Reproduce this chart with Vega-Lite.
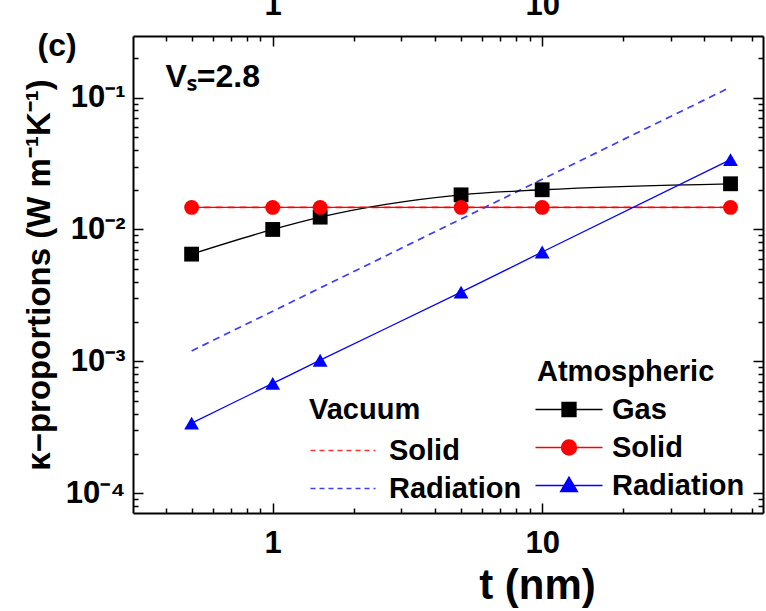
{
  "$schema": "https://vega.github.io/schema/vega-lite/v6.json",
  "width": 630,
  "height": 477,
  "autosize": "none",
  "padding": {"left": 133, "top": 36, "right": 3, "bottom": 98},
  "background": "white",
  "config": {
    "view": {"stroke": null},
    "font": "Liberation Sans",
    "axis": {
      "grid": false,
      "domainColor": "black",
      "domainWidth": 2,
      "tickColor": "black",
      "tickWidth": 1.5,
      "labelColor": "black",
      "titleColor": "black",
      "labelFont": "Liberation Sans",
      "titleFont": "Liberation Sans",
      "labelFontWeight": "bold",
      "titleFontWeight": "bold",
      "labelFlush": false,
      "labelOverlap": false,
      "labelBound": false
    },
    "legend": {
      "labelFont": "Liberation Sans",
      "titleFont": "Liberation Sans",
      "labelFontSize": 29,
      "titleFontSize": 29,
      "labelFontWeight": "bold",
      "titleFontWeight": "bold",
      "labelColor": "black",
      "titleColor": "black",
      "padding": 0,
      "labelLimit": 400,
      "titleLimit": 400
    }
  },
  "data": {
    "values": [
      {"env": "Atmospheric", "comp": "Gas", "t": 0.5, "k": 0.0065},
      {"env": "Atmospheric", "comp": "Gas", "t": 1, "k": 0.0100},
      {"env": "Atmospheric", "comp": "Gas", "t": 1.5, "k": 0.0124},
      {"env": "Atmospheric", "comp": "Gas", "t": 5, "k": 0.0183},
      {"env": "Atmospheric", "comp": "Gas", "t": 10, "k": 0.0200},
      {"env": "Atmospheric", "comp": "Gas", "t": 50, "k": 0.0222},
      {"env": "Atmospheric", "comp": "Solid", "t": 0.5, "k": 0.0147},
      {"env": "Atmospheric", "comp": "Solid", "t": 1, "k": 0.0147},
      {"env": "Atmospheric", "comp": "Solid", "t": 1.5, "k": 0.0147},
      {"env": "Atmospheric", "comp": "Solid", "t": 5, "k": 0.0147},
      {"env": "Atmospheric", "comp": "Solid", "t": 10, "k": 0.0147},
      {"env": "Atmospheric", "comp": "Solid", "t": 50, "k": 0.0147},
      {"env": "Atmospheric", "comp": "Radiation", "t": 0.5, "k": 0.00034},
      {"env": "Atmospheric", "comp": "Radiation", "t": 1, "k": 0.00068},
      {"env": "Atmospheric", "comp": "Radiation", "t": 1.5, "k": 0.00102},
      {"env": "Atmospheric", "comp": "Radiation", "t": 5, "k": 0.00335},
      {"env": "Atmospheric", "comp": "Radiation", "t": 10, "k": 0.00675},
      {"env": "Atmospheric", "comp": "Radiation", "t": 50, "k": 0.0338},
      {"env": "Vacuum", "comp": "Solid", "t": 0.5, "k": 0.0147},
      {"env": "Vacuum", "comp": "Solid", "t": 1, "k": 0.0147},
      {"env": "Vacuum", "comp": "Solid", "t": 1.5, "k": 0.0147},
      {"env": "Vacuum", "comp": "Solid", "t": 5, "k": 0.0147},
      {"env": "Vacuum", "comp": "Solid", "t": 10, "k": 0.0147},
      {"env": "Vacuum", "comp": "Solid", "t": 50, "k": 0.0147},
      {"env": "Vacuum", "comp": "Radiation", "t": 0.5, "k": 0.0012},
      {"env": "Vacuum", "comp": "Radiation", "t": 1, "k": 0.0024},
      {"env": "Vacuum", "comp": "Radiation", "t": 1.5, "k": 0.0036},
      {"env": "Vacuum", "comp": "Radiation", "t": 5, "k": 0.012},
      {"env": "Vacuum", "comp": "Radiation", "t": 10, "k": 0.024},
      {"env": "Vacuum", "comp": "Radiation", "t": 50, "k": 0.12}
    ]
  },
  "layer": [
    {
      "transform": [{"filter": "datum.env == 'Vacuum'"}],
      "mark": {"type": "line", "strokeDash": [7, 5], "strokeWidth": 1.7, "clip": true},
      "encoding": {
        "x": {
          "field": "t", "type": "quantitative",
          "scale": {"type": "log", "domain": [0.303, 66], "nice": false},
          "axis": {
            "orient": "bottom",
            "values": [0.4, 0.5, 0.6, 0.7, 0.8, 0.9, 1, 2, 3, 4, 5, 6, 7, 8, 9, 10, 20, 30, 40, 50, 60],
            "labelExpr": "datum.value == 1 ? '1' : datum.value == 10 ? '10' : ''",
            "tickSize": {"condition": {"test": "datum.value == 1 || datum.value == 10", "value": -10}, "value": -5},
            "labelPadding": 25,
            "labelFontSize": 31,
            "title": "t (nm)",
            "titleFontSize": 42,
            "titleX": 404,
            "titleY": 52,
            "titleAlign": "center",
            "titleBaseline": "top"
          }
        },
        "y": {
          "field": "k", "type": "quantitative",
          "scale": {"type": "log", "domain": [0.0000708, 0.293], "nice": false},
          "axis": {
            "orient": "left",
            "values": [0.00008, 0.00009, 0.0001, 0.0002, 0.0003, 0.0004, 0.0005, 0.0006, 0.0007, 0.0008, 0.0009, 0.001, 0.002, 0.003, 0.004, 0.005, 0.006, 0.007, 0.008, 0.009, 0.01, 0.02, 0.03, 0.04, 0.05, 0.06, 0.07, 0.08, 0.09, 0.1, 0.2],
            "labelExpr": "datum.value == 0.1 ? '10⁻¹' : datum.value == 0.01 ? '10⁻²' : datum.value == 0.001 ? '10⁻³' : datum.value == 0.0001 ? '10⁻⁴' : ''",
            "tickSize": {"condition": {"test": "datum.value == 0.1 || datum.value == 0.01 || datum.value == 0.001 || datum.value == 0.0001", "value": -10}, "value": -5},
            "labelPadding": 18,
            "labelFontSize": 31,
            "title": "κ−proportions (W m⁻¹K⁻¹)",
            "titleFontSize": 33,
            "titlePadding": 9
          }
        },
        "stroke": {
          "field": "comp", "type": "nominal",
          "scale": {"domain": ["Solid", "Radiation"], "range": ["#ff3030", "#3c3cff"]},
          "legend": {
            "title": "Vacuum",
            "orient": "none",
            "legendX": 176,
            "legendY": 360,
            "symbolType": "M-1.3,0H5.2",
            "symbolSize": 400,
            "symbolStrokeWidth": 1.5,
            "symbolDash": [5, 4],
            "labelOffset": 51,
            "rowPadding": 8,
            "titlePadding": 11
          }
        }
      }
    },
    {
      "transform": [{"filter": "datum.env == 'Atmospheric'"}],
      "mark": {"type": "line", "strokeWidth": 1.3, "interpolate": "monotone", "clip": true},
      "encoding": {
        "x": {
          "field": "t", "type": "quantitative",
          "scale": {"type": "log", "domain": [0.303, 66], "nice": false},
          "axis": {
            "orient": "top",
            "values": [0.4, 0.5, 0.6, 0.7, 0.8, 0.9, 1, 2, 3, 4, 5, 6, 7, 8, 9, 10, 20, 30, 40, 50, 60],
            "labelExpr": "datum.value == 1 ? '1' : datum.value == 10 ? '10' : ''",
            "tickSize": {"condition": {"test": "datum.value == 1 || datum.value == 10", "value": -10}, "value": -5},
            "labelPadding": 25,
            "labelFontSize": 31,
            "title": "(c)",
            "titleFontSize": 32,
            "titleX": -96,
            "titleY": -6,
            "titleAlign": "left",
            "titleBaseline": "top",
            "titleAngle": 0
          }
        },
        "y": {
          "field": "k", "type": "quantitative",
          "scale": {"type": "log", "domain": [0.0000708, 0.293], "nice": false},
          "axis": {
            "orient": "right",
            "values": [0.00008, 0.00009, 0.0001, 0.0002, 0.0003, 0.0004, 0.0005, 0.0006, 0.0007, 0.0008, 0.0009, 0.001, 0.002, 0.003, 0.004, 0.005, 0.006, 0.007, 0.008, 0.009, 0.01, 0.02, 0.03, 0.04, 0.05, 0.06, 0.07, 0.08, 0.09, 0.1, 0.2],
            "labels": false,
            "tickSize": {"condition": {"test": "datum.value == 0.1 || datum.value == 0.01 || datum.value == 0.001 || datum.value == 0.0001", "value": -10}, "value": -5},
            "title": "Vₛ=2.8",
            "titleFontSize": 32,
            "titleAngle": 0,
            "titleAlign": "left",
            "titleBaseline": "top",
            "titleX": -598,
            "titleY": 25
          }
        },
        "color": {
          "field": "comp", "type": "nominal",
          "scale": {"domain": ["Gas", "Solid", "Radiation"], "range": ["#000000", "#ff0000", "#0000ff"]},
          "legend": null
        }
      }
    },
    {
      "transform": [{"filter": "datum.env == 'Atmospheric'"}],
      "mark": {"type": "point", "filled": true, "opacity": 1, "size": 220, "clip": true},
      "encoding": {
        "x": {"field": "t", "type": "quantitative", "axis": null},
        "y": {"field": "k", "type": "quantitative", "axis": null},
        "color": {
          "field": "comp", "type": "nominal",
          "scale": {"domain": ["Gas", "Solid", "Radiation"], "range": ["#000000", "#ff0000", "#0000ff"]},
          "legend": null
        },
        "shape": {
          "field": "comp", "type": "nominal",
          "scale": {"domain": ["Gas", "Solid", "Radiation"], "range": ["square", "circle", "triangle-up"]},
          "legend": null
        }
      }
    },
    {
      "transform": [{"filter": "false"}],
      "mark": {"type": "point", "filled": true, "opacity": 1},
      "encoding": {
        "fill": {
          "field": "comp", "type": "nominal",
          "scale": {"domain": ["Gas", "Solid", "Radiation"], "range": ["#000000", "#ff0000", "#0000ff"]},
          "legend": {"title": "Atmospheric", "orient": "none", "legendX": 404, "legendY": 322, "symbolSize": 400, "symbolStrokeWidth": 1.3, "labelOffset": 46, "rowPadding": 8, "titlePadding": 8}
        },
        "stroke": {
          "field": "comp", "type": "nominal",
          "scale": {"domain": ["Gas", "Solid", "Radiation"], "range": ["#000000", "#ff0000", "#0000ff"]},
          "legend": {"title": "Atmospheric", "orient": "none", "legendX": 404, "legendY": 322, "symbolSize": 400, "symbolStrokeWidth": 1.3, "labelOffset": 46, "rowPadding": 8, "titlePadding": 8}
        },
        "shape": {
          "field": "comp", "type": "nominal",
          "scale": {
            "domain": ["Gas", "Solid", "Radiation"],
            "range": [
              "M-1.6,0H5.1M1.05,-0.7H2.45V0.7H1.05Z",
              "M-1.6,0H5.1M1,0A0.75,0.75,0,1,1,2.5,0A0.75,0.75,0,1,1,1,0Z",
              "M-1.6,0H5.1M1.75,-0.85L2.6,0.6L0.9,0.6Z"
            ]
          },
          "legend": {"title": "Atmospheric", "orient": "none", "legendX": 404, "legendY": 322, "symbolSize": 400, "symbolStrokeWidth": 1.3, "labelOffset": 46, "rowPadding": 8, "titlePadding": 8}
        }
      }
    }
  ],
  "resolve": {
    "scale": {"color": "independent", "stroke": "independent", "shape": "independent", "fill": "independent"},
    "axis": {"x": "independent", "y": "independent"}
  }
}
